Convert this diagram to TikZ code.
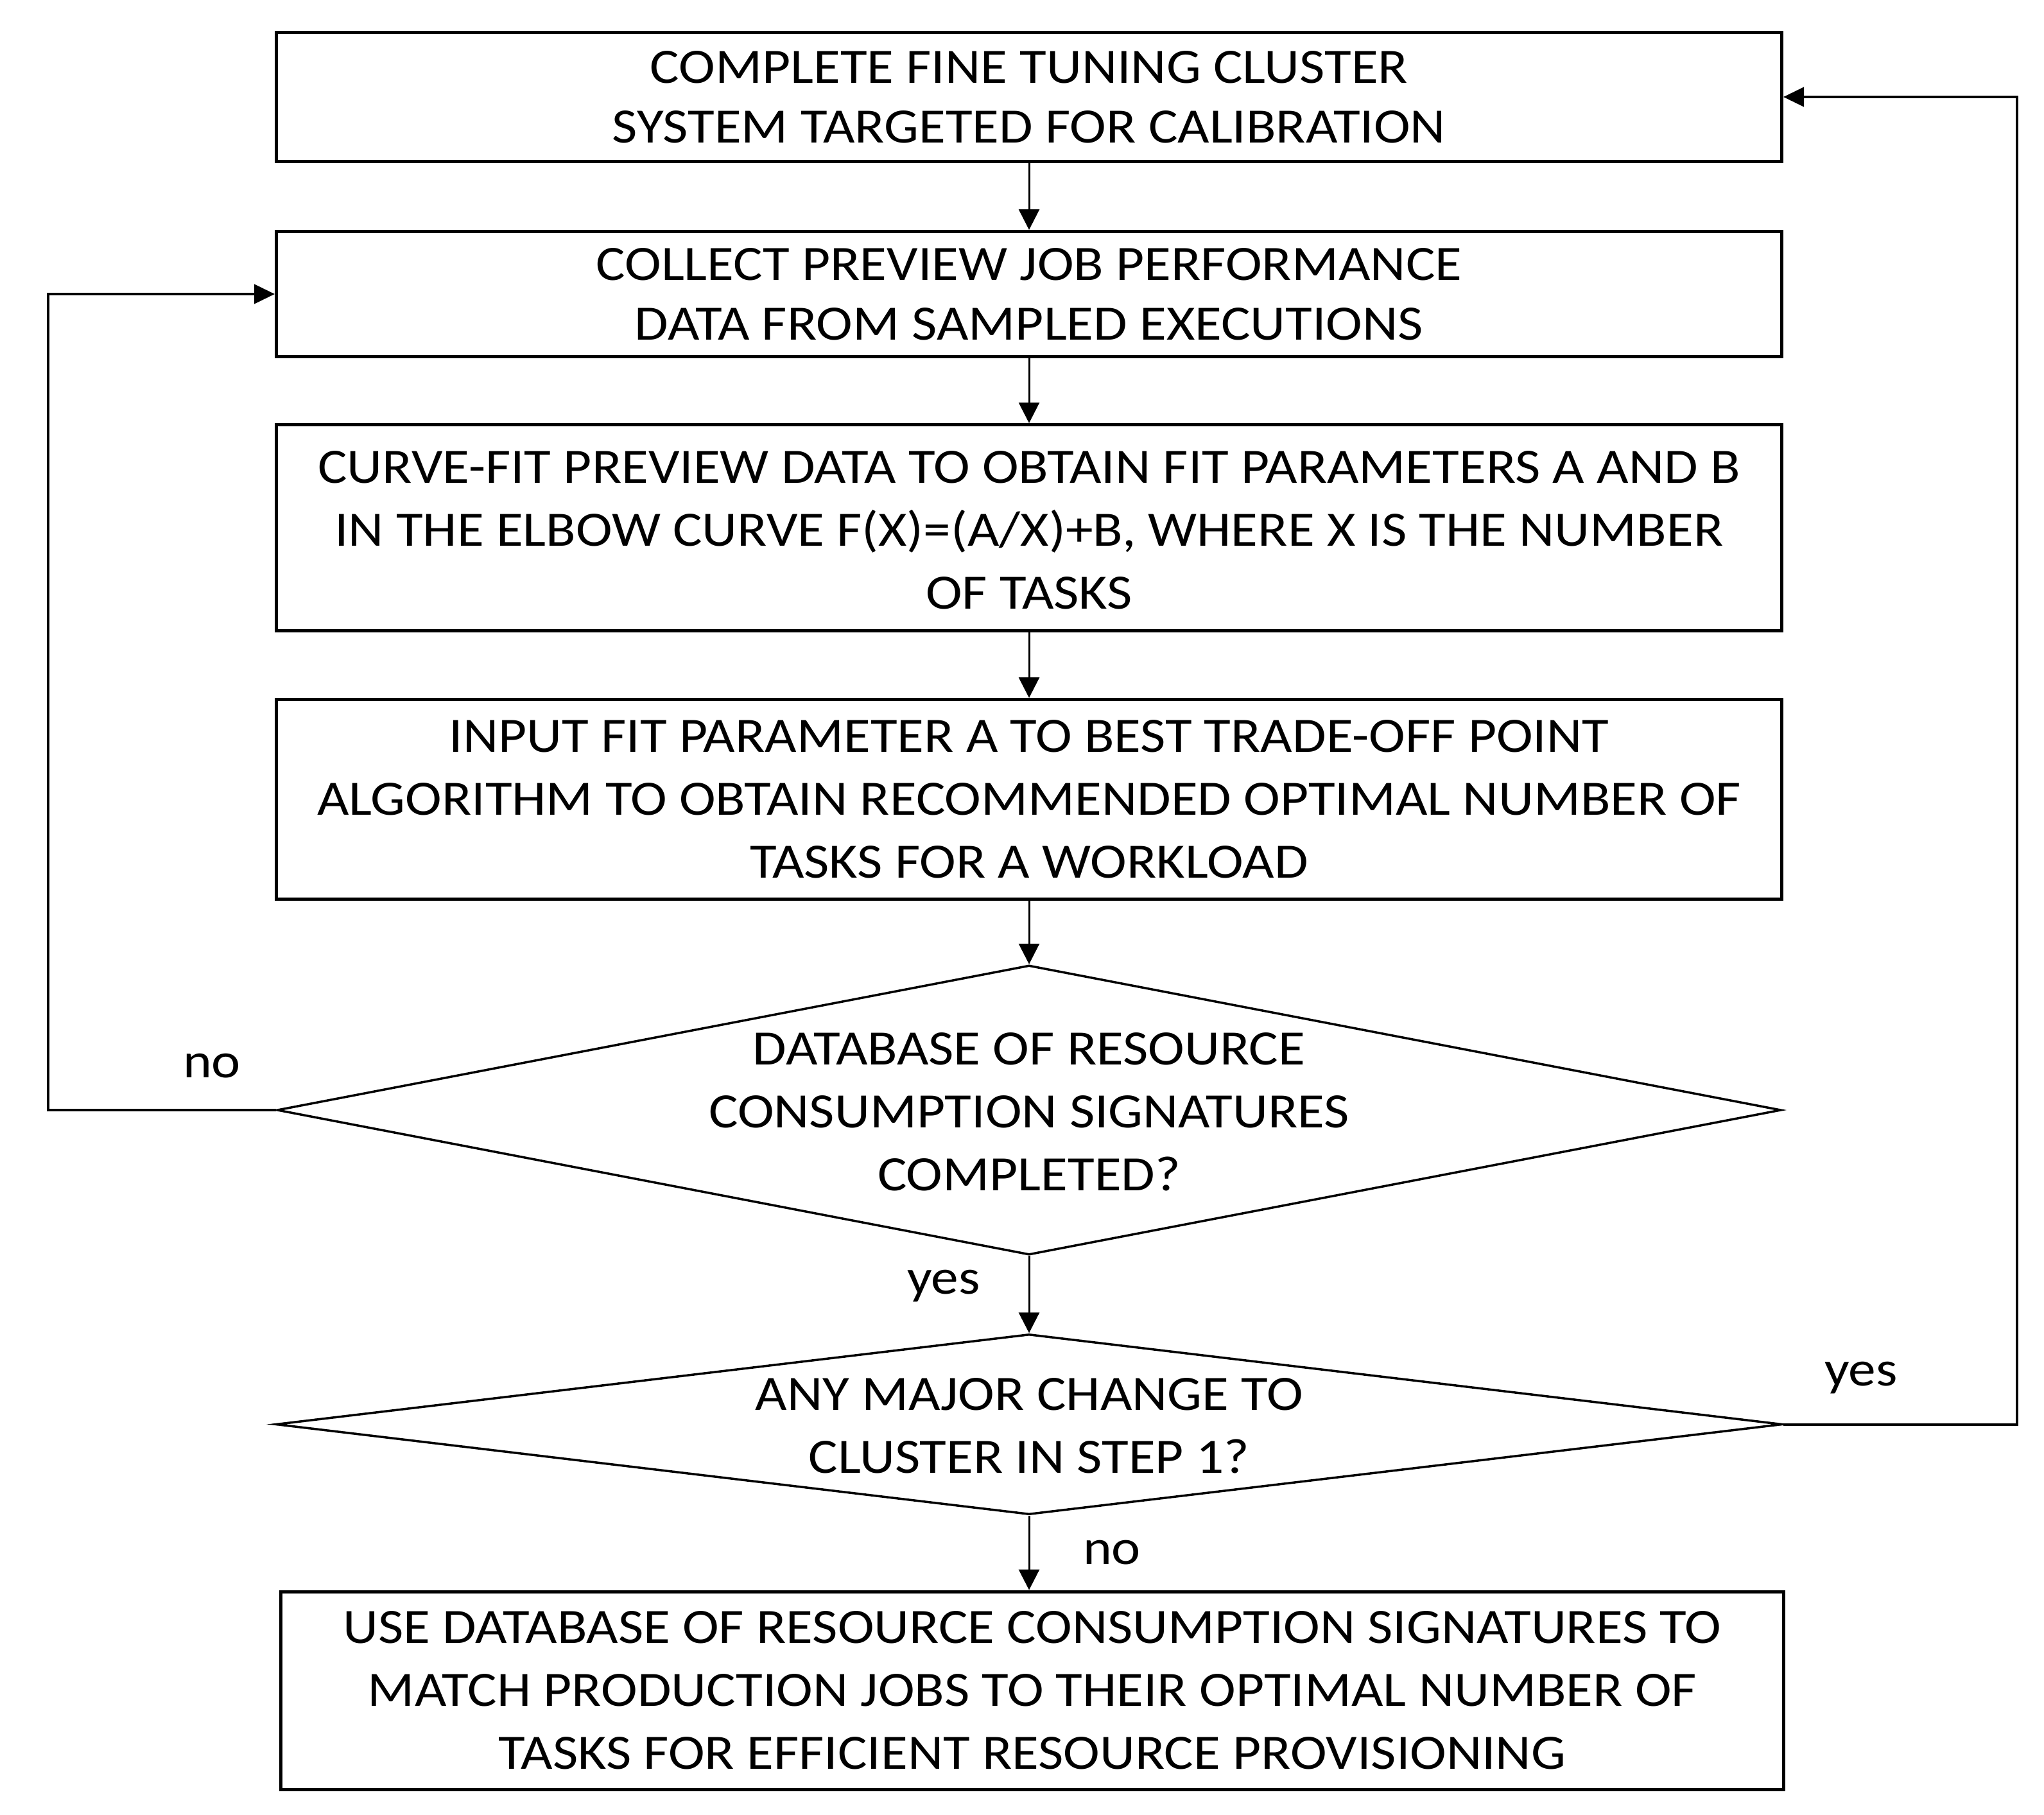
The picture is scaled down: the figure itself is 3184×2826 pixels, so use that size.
\documentclass[tikz,border=0pt]{standalone}
\usepackage{fontspec}
\setmainfont{Carlito}[FakeStretch=1.11]
\usetikzlibrary{shapes.geometric,arrows.meta}
\begin{document}
\begin{tikzpicture}[x=0.5pt,y=-0.5pt,
  txt/.style={font=\fontsize{38.5}{49}\selectfont, align=center, inner sep=0pt},
  txttwo/.style={font=\fontsize{38.5}{46.5}\selectfont, align=center, inner sep=0pt},
  box/.style={draw, line width=2.5pt, minimum width=1172.5pt, inner sep=0pt},
  dia/.style={draw, diamond, line width=1.75pt, inner sep=0pt},
  lbl/.style={font=\fontsize{38.5}{49}\selectfont, inner sep=0pt, anchor=base},
  arr/.style={line width=1.5pt, -{Triangle[length=16pt,width=16pt]}},
  loop/.style={line width=2pt, -{Triangle[length=16pt,width=15pt]}}]
\useasboundingbox (0,0) rectangle (3184,2826);
\fill[white] (0,0) rectangle (3184,2826);

\node[box, minimum height=100.5pt] (b1) at (1603,151) {};
\node[txttwo] (t1) at (b1.center) {COMPLETE FINE TUNING CLUSTER\\SYSTEM TARGETED FOR CALIBRATION};

\node[box, minimum height=97.5pt] (b2) at (1603,458) {};
\node[txttwo] (t2) at (b2.center) {COLLECT PREVIEW JOB PERFORMANCE\\DATA FROM SAMPLED EXECUTIONS};

\node[box, minimum height=160.5pt] (b3) at (1603,822) {};
\node[txt] (t3) at (1603,826) {CURVE-FIT PREVIEW DATA TO OBTAIN FIT PARAMETERS A AND B\\IN THE ELBOW CURVE F(X)=(A/X)+B, WHERE X IS THE NUMBER\\OF TASKS};

\node[box, minimum height=155.5pt] (b4) at (1603,1245) {};
\node[txt] (t4) at (b4.center) {INPUT FIT PARAMETER A TO BEST TRADE-OFF POINT\\ALGORITHM TO OBTAIN RECOMMENDED OPTIMAL NUMBER OF\\TASKS FOR A WORKLOAD};

\node[dia, minimum width=1171.5pt, minimum height=225.5pt] (d1) at (1603,1729) {};
\node[txt] (t5) at (1603,1732) {DATABASE OF RESOURCE\\CONSUMPTION SIGNATURES\\COMPLETED?};

\node[dia, minimum width=1173.5pt, minimum height=140.5pt] (d2) at (1603,2218.5) {};
\node[txt] (t6) at (1603,2221) {ANY MAJOR CHANGE TO\\CLUSTER IN STEP 1?};

\node[box, minimum width=1170.5pt, minimum height=154pt] (b5) at (1608,2633) {};
\node[txt] (t7) at (b5.center) {USE DATABASE OF RESOURCE CONSUMPTION SIGNATURES TO\\MATCH PRODUCTION JOBS TO THEIR OPTIMAL NUMBER OF\\TASKS FOR EFFICIENT RESOURCE PROVISIONING};

\draw[arr] (b1.south) -- (b2.north);
\draw[arr] (b2.south) -- (b3.north);
\draw[arr] (b3.south) -- (b4.north);
\draw[arr] (b4.south) -- (d1.north);
\draw[arr] (d1.south) -- (d2.north);
\draw[arr] (d2.south) -- (d2.south |- b5.north);

\coordinate (l1) at (75,1729);
\coordinate (l2) at (75,458);
\draw[loop] (d1.west) -- (l1) -- (l2) -- (b2.west);

\coordinate (r1) at (3142,2218.5);
\coordinate (r2) at (3142,151);
\draw[loop] (d2.east) -- (r1) -- (r2) -- (b1.east);

\node[lbl] (no1) at (330,1678) {no};
\node[lbl] (yes1) at (1470,2015) {yes};
\node[lbl] (yes2) at (2899,2158) {yes};
\node[lbl] (no2) at (1732,2436) {no};
\end{tikzpicture}
\end{document}
